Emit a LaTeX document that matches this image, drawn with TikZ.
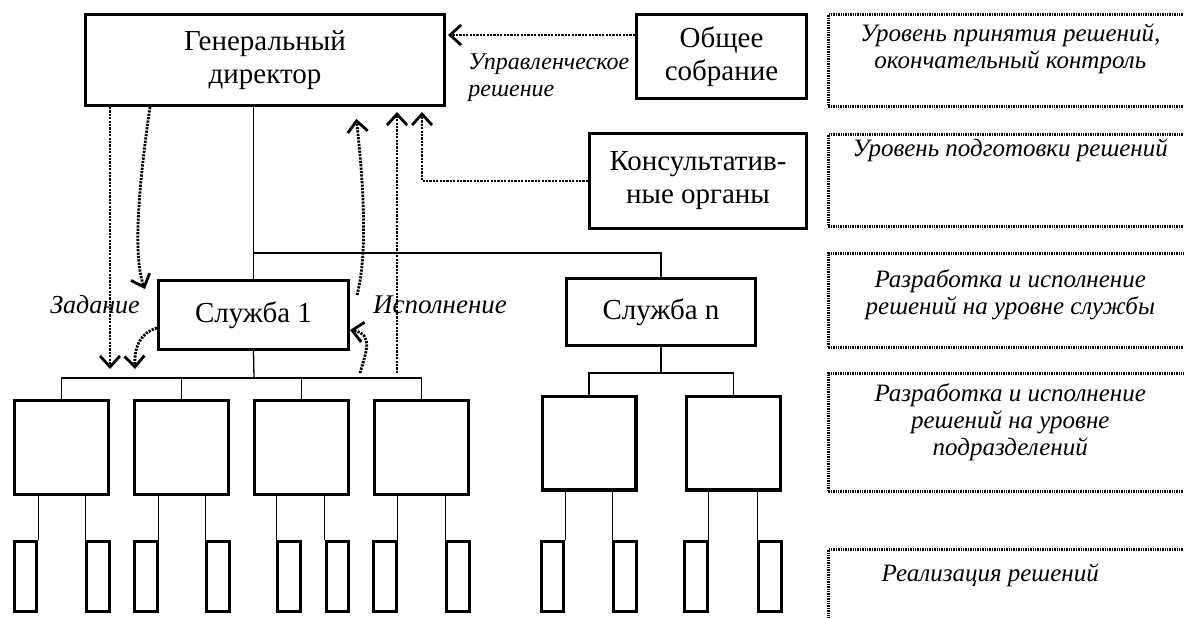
\documentclass[tikz,border=0pt]{standalone}
\usepackage{fontspec}
\setmainfont{Liberation Serif}
\usetikzlibrary{arrows.meta,positioning,calc}
\newcommand{\lvltext}[3]{\parbox[c][#1][t]{182pt}{\centering\vspace*{#2}#3\par}}

\begin{document}
\begin{tikzpicture}[
  x=0.5pt, y=-0.5pt,
  box/.style={rectangle, draw, line width=1.6pt, inner sep=0pt, align=center,
    font=\fontsize{14.5}{16.5}\selectfont},
  unit/.style={rectangle, draw, line width=1.6pt, inner sep=0pt,
    minimum width=46.9pt, minimum height=46.9pt},
  cell/.style={rectangle, draw, line width=1.6pt, inner sep=0pt,
    minimum width=11.2pt, minimum height=34.9pt},
  link/.style={line width=0.65pt},
  flow/.style={line width=1.4pt, dash pattern=on 1.1pt off 0.6pt,
    -{Straight Barb[length=5.5pt, width=10pt]}},
  level/.style={rectangle, draw, line width=1.3pt, dash pattern=on 0.7pt off 0.5pt,
    inner sep=0pt, anchor=north west, font=\itshape\fontsize{12.5}{13.5}\selectfont},
  note/.style={inner sep=0pt, font=\itshape\fontsize{12}{13.5}\selectfont},
]
  \useasboundingbox (0,0) rectangle (1184,617);
  \clip (0,0) rectangle (1184,617);

  % top level
  \node[box, minimum width=179.4pt, minimum height=45.4pt] (gd) at (265,60) {Генеральный\\директор};
  \node[box, minimum width=84.9pt, minimum height=41.9pt] (os) at (721.5,56.5) {Общее\\собрание};
  \node[box, minimum width=108.4pt, minimum height=47.4pt] (ko) at (698,181) {Консультатив-\\ные органы};

  % services
  \node[box, minimum width=94.9pt, minimum height=34.4pt] (sl1) at (253.5,315) {Служба 1};
  \node[box, minimum width=94.4pt, minimum height=33.4pt] (sln) at (661,312) {Служба n};

  % departments
  \node[unit] (d1) at (61.5,447.5) {};
  \node[unit] (d2) at (181.5,447.5) {};
  \node[unit] (d3) at (301.5,447.5) {};
  \node[unit] (d4) at (421.5,447.5) {};
  \node[unit] (d5) at (589,443) {};
  \node[unit] (d6) at (733.5,443) {};

  % executors
  \node[cell] (e1) at (25.5,576.5) {};
  \node[cell] (e2) at (98,576.5) {};
  \node[cell] (e3) at (146,576.5) {};
  \node[cell] (e4) at (218,576.5) {};
  \node[cell] (e5) at (289,576.5) {};
  \node[cell] (e6) at (337.5,576.5) {};
  \node[cell] (e7) at (385,576.5) {};
  \node[cell] (e8) at (458,576.5) {};
  \node[cell] (e9) at (552.5,576.5) {};
  \node[cell] (e10) at (625,576.5) {};
  \node[cell] (e11) at (696,576.5) {};
  \node[cell] (e12) at (770,576.5) {};

  % tree
  \coordinate (top) at (254,253);
  \coordinate (bus1) at (254,378);
  \coordinate (bus2) at (661,373);
  \draw[link] (gd.south -| sl1.north) -- (sl1.north);
  \draw[link] (top) -| (sln.north);
  \draw[link] (sl1.south) -- (bus1);
  \draw[link] (d1.north) |- (d4.north |- bus1) -- (d4.north);
  \draw[link] (d2.north) -- (d2.north |- bus1);
  \draw[link] (d3.north) -- (d3.north |- bus1);
  \draw[link] (sln.south) -- (bus2);
  \draw[link] (d5.north) |- (d6.north |- bus2) -- (d6.north);

  \draw[link] (e1.north east) -- (e1.north east |- d1.south);
  \draw[link] (e2.north west) -- (e2.north west |- d1.south);
  \draw[link] (e3.north east) -- (e3.north east |- d2.south);
  \draw[link] (e4.north west) -- (e4.north west |- d2.south);
  \draw[link] (e5.north west) -- (e5.north west |- d3.south);
  \draw[link] (e6.north west) -- (e6.north west |- d3.south);
  \draw[link] (e7.north east) -- (e7.north east |- d4.south);
  \draw[link] (e8.north west) -- (e8.north west |- d4.south);
  \draw[link] (e9.north east) -- (e9.north east |- d5.south);
  \draw[link] (e10.north west) -- (e10.north west |- d5.south);
  \draw[link] (e11.north east) -- (e11.north east |- d6.south);
  \draw[link] (e12.north west) -- (e12.north west |- d6.south);

  % task and execution flows
  \coordinate (zad1) at (110,369);
  \coordinate (zad2) at (145,289);
  \coordinate (zad3) at (135,369);
  \draw[flow] (gd.south -| zad1) -- (zad1);
  \draw[flow] ([xshift=-57.5pt]gd.south) .. controls (138,190) and (133,258) .. (zad2);
  \draw[flow] ([yshift=-6.5pt]sl1.west) .. controls (142,332) and (134,345) .. (zad3);

  \coordinate (isp1) at (357,295);
  \coordinate (isp2) at (397,373);
  \coordinate (isp3) at (360,373);
  \draw[flow, shorten >=6pt] (isp1) .. controls (369,250) and (362,170) .. ([xshift=45pt]gd.south);
  \draw[flow, shorten >=2.5pt] (isp2) -- ([xshift=66pt]gd.south);
  \draw[flow, shorten >=2.5pt] (ko.west) -| ([xshift=78.5pt]gd.south);
  \draw[flow] (isp3) .. controls (366,352) and (374,334) .. ([yshift=-7.5pt]sl1.east);
  \draw[flow, shorten >=1pt] ([yshift=10.75pt]os.west) -- ([yshift=12.5pt]gd.east);

  \node[note, align=left, anchor=west] (upr) at (468,78) {Управленческое\\решение};
  \node[note, font=\itshape\fontsize{13}{15}\selectfont] (zad) at (95,305) {Задание};
  \node[note, font=\itshape\fontsize{13.5}{15}\selectfont] (isp) at (440,305) {Исполнение};

  % levels
  \node[level] (lv1) at (827,13) {\lvltext{46pt}{4.5pt}{Уровень принятия решений,\\окончательный контроль}};
  \node[level] (lv2) at (827,133) {\lvltext{46pt}{2pt}{Уровень подготовки решений}};
  \node[level] (lv3) at (827,252) {\lvltext{47pt}{8pt}{Разработка и исполнение\\решений на уровне службы}};
  \node[level] (lv4) at (827,372) {\lvltext{59pt}{5pt}{Разработка и исполнение\\решений на уровне\\подразделений}};
  \node[level] (lv5) at (827,548) {\lvltext{46pt}{7pt}{\hspace*{-20pt}Реализация решений}};
\end{tikzpicture}
\end{document}
